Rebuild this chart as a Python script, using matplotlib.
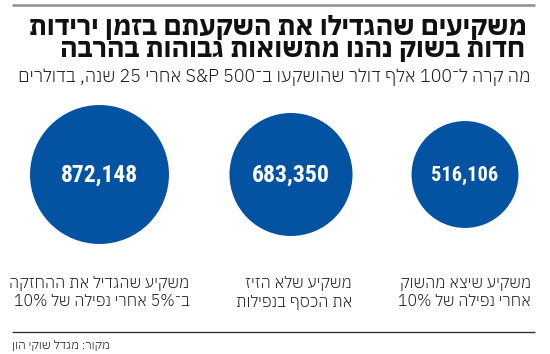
import re
import matplotlib
matplotlib.use("Agg")
import matplotlib.pyplot as plt
from matplotlib.patches import Circle

# Data
title_lines = ["משקיעים שהגדילו את השקעתם בזמן ירידות",
               "חדות בשוק נהנו מתשואות גבוהות בהרבה"]
subtitle = "מה קרה ל־100 אלף דולר שהושקעו ב־S&P 500 אחרי 25 שנה, בדולרים"
categories = [["משקיע שהגדיל את ההחזקה", "ב־5% אחרי נפילה של 10%"],
              ["משקיע שלא הזיז", "את הכסף בנפילות"],
              ["משקיע שיצא מהשוק", "אחרי נפילה של 10%"]]
values = [872148, 683350, 516106]
source = "מקור: מגדל שוקי הון"

BLUE = "#0453a2"
HEB = ["IBM Plex Sans Hebrew", "DejaVu Sans"]
NUM = ["Roboto Condensed", "IBM Plex Sans Condensed", "DejaVu Sans"]


def rtl(s):
    """Reorder logical Hebrew text for left-to-right drawing, keeping number/Latin runs."""
    rev = s[::-1]
    return re.sub(r'[A-Za-z0-9&%,.]+(?: [A-Za-z0-9&%,.]+)*', lambda m: m.group(0)[::-1], rev)


def fit(t, width, renderer):
    """Scale a text's font size so that it is `width` pixels wide."""
    size = t.get_fontsize()
    bb = t.get_window_extent(renderer)
    t.set_fontsize(size * width / bb.width)
    return t.get_fontsize()


fig = plt.figure(figsize=(5.5, 3.54), dpi=100)
ax = fig.add_axes([0, 0, 1, 1])
ax.set_xlim(0, 550)
ax.set_ylim(354, 0)
ax.axis("off")
fig.canvas.draw()
r = fig.canvas.get_renderer()

# rules
ax.plot([12, 535], [5, 5], color="#8e8e8e", lw=1.8, solid_capstyle="butt")
ax.plot([12, 535], [332, 332], color="#333333", lw=1.0, solid_capstyle="butt")

# title and subtitle
t1 = ax.text(527, 35.5, rtl(title_lines[0]), family=HEB, fontweight=700, color="#111111",
             ha="right", va="baseline", fontsize=20)
fs = fit(t1, 498, r)
ax.text(525, 57.5, rtl(title_lines[1]), family=HEB, fontweight=700, color="#111111",
        ha="right", va="baseline", fontsize=fs)
st = ax.text(530, 81.5, rtl(subtitle), family=HEB, fontweight=300, color="#1a1a1a",
             ha="right", va="baseline", fontsize=14)
fit(st, 515, r)

# bubbles, area proportional to value
xs = [99.5, 291, 465]
yc = 174.5
num_widths = [77, 78, 67]
for x, v, w in zip(xs, values, num_widths):
    d = 0.1488 * v ** 0.5
    ax.add_patch(Circle((x, yc), d / 2, color=BLUE, lw=0))
    t = ax.text(x, yc + 0.5, f"{v:,}", family=NUM, fontstretch="condensed",
                fontweight="bold", color="white", ha="center", va="center", fontsize=14)
    fit(t, w, r)

# category labels
rights = [189.5, 352, 531]
probe = ax.text(rights[0], 288, rtl(categories[0][0]), family=HEB, fontweight=300,
                color="#1a1a1a", ha="right", va="baseline", fontsize=14)
cs = fit(probe, 181, r)
for i, (xr, lines) in enumerate(zip(rights, categories)):
    for j, line in enumerate(lines):
        if i == 0 and j == 0:
            continue
        ax.text(xr, 288 + j * 18.5, rtl(line), family=HEB, fontweight=300, color="#1a1a1a",
                ha="right", va="baseline", fontsize=cs)

src = ax.text(12.5, 349, rtl(source), family=HEB, fontweight=300, color="#1a1a1a",
              ha="left", va="baseline", fontsize=10)
fit(src, 98, r)

fig.savefig("out.png", dpi=100)
